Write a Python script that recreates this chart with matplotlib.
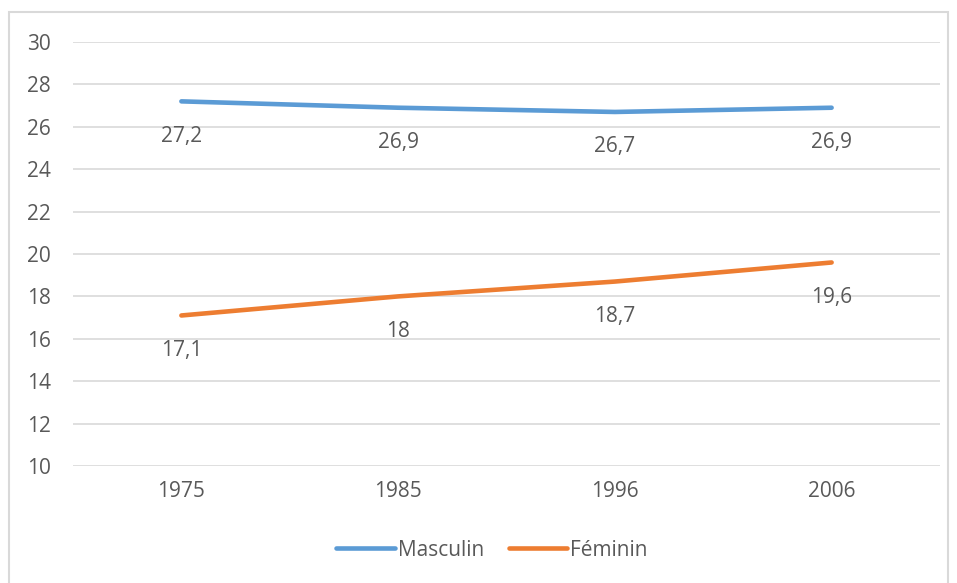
import matplotlib.pyplot as plt
from matplotlib.patches import Rectangle

# Data
years = ['1975', '1985', '1996', '2006']
masculin = [27.2, 26.9, 26.7, 26.9]
feminin = [17.1, 18.0, 18.7, 19.6]
masculin_labels = ['27,2', '26,9', '26,7', '26,9']
feminin_labels = ['17,1', '18', '18,7', '19,6']

blue = '#5B9BD5'
orange = '#ED7D31'
text_col = '#595959'

plt.rcParams['font.family'] = ['Open Sans', 'DejaVu Sans']

fig = plt.figure(figsize=(9.57, 5.83), dpi=100)
ax = fig.add_axes([73 / 957, 1 - 466 / 583, 867 / 957, 424 / 583])

# chart border
fig.patches.append(Rectangle((9 / 957, -0.05), 939 / 957, 1 - 12 / 583 + 0.05,
                             transform=fig.transFigure, fill=False,
                             edgecolor='#D9D9D9', linewidth=1.5))

x = range(len(years))
ax.plot(x, masculin, color=blue, linewidth=3.3, solid_capstyle='round', label='Masculin')
ax.plot(x, feminin, color=orange, linewidth=3.3, solid_capstyle='round', label='Féminin')

for i in x:
    ax.annotate(masculin_labels[i], (i, masculin[i]), xytext=(0, -25),
                textcoords='offset points', ha='center', va='center',
                fontsize=15, color=text_col)
    ax.annotate(feminin_labels[i], (i, feminin[i]), xytext=(0, -25),
                textcoords='offset points', ha='center', va='center',
                fontsize=15, color=text_col)

ax.set_xlim(-0.5, 3.5)
ax.set_ylim(10, 30)
ax.set_yticks(range(10, 31, 2))
ax.set_xticks(list(x))
ax.set_xticklabels(years)
ax.tick_params(axis='both', length=0, labelsize=15, labelcolor=text_col)
ax.tick_params(axis='y', pad=16)
ax.tick_params(axis='x', pad=11)
ax.grid(axis='y', color='#D9D9D9', linewidth=1.2)
ax.set_axisbelow(True)
for s in ax.spines.values():
    s.set_visible(False)

fig.legend(loc='center', bbox_to_anchor=(492 / 957, 1 - 550 / 583), ncol=2,
           frameon=False, fontsize=15, labelcolor=text_col,
           handlelength=2.8, handletextpad=0.15, columnspacing=1.2)

fig.savefig('out.png', dpi=100)
